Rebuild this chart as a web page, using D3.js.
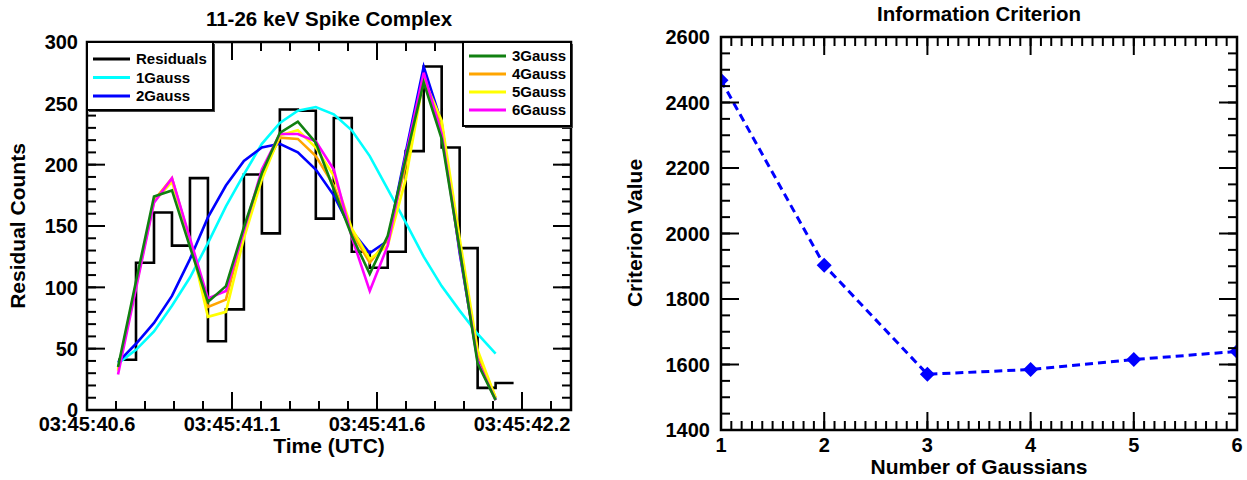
<!DOCTYPE html>
<html><head><meta charset="utf-8">
<script src="https://cdn.jsdelivr.net/npm/d3@7/dist/d3.min.js"></script>
<style>
body{margin:0;background:#fff}
text{font-family:"Liberation Sans",Arial,Helvetica,sans-serif;font-weight:bold;fill:#000}
</style>
</head><body>
<svg id="c" width="1247" height="480"></svg>
<script>
// ---------- Left panel data ----------
const times = [40.757,40.819,40.881,40.943,41.005,41.067,41.129,41.191,41.253,41.315,41.377,
               41.439,41.501,41.563,41.625,41.687,41.749,41.811,41.873,41.935,41.997,42.059];
const binWidth = 0.062;
const residuals = [41,120,161,134,189,56,82,192,144,245,244,156,238,129,116,129,211,280,214,132,18,22];
const gauss1 = [38,49,64,85,108,136,166,192,217,234,244,247,241,228,207,180,153,125,101,81,62,46];
const gauss2 = [39,54,71,93,123,157,183,203,214,217,210,196,175,146,128,138,210,280,234,128,41,9];
const gauss3 = [35,105,174,179,133,88,101,149,193,226,235,218,180,142,111,142,205,267,221,131,38,8];
const gauss4 = [33,102,171,189,138,84,90,146,192,222,221,207,183,145,120,139,200,271,230,135,46,10];
const gauss5 = [32,101,170,186,139,76,80,140,188,224,228,214,191,148,123,134,188,270,236,140,49,10];
const gauss6 = [29,99,169,189,140,91,97,146,196,225,225,219,196,141,97,134,207,275,225,130,40,8];
const fitNames = ["1Gauss","2Gauss","3Gauss","4Gauss","5Gauss","6Gauss"];
const fitColors = ["#00ffff","#0000ff","#118011","#ffa500","#ffff00","#ff00ff"];
const xTickTimes = [40.65,41.15,41.65,42.15];
const xTickLabels = ["03:45:40.6","03:45:41.1","03:45:41.6","03:45:42.2"];
const yTicksLeft = [0,50,100,150,200,250,300];

// ---------- Right panel data ----------
const nGauss = [1,2,3,4,5,6];
const criterion = [2468,1903,1570,1585,1615,1640];
const yTicksRight = [1400,1600,1800,2000,2200,2400,2600];

const svg = d3.select("#c");
svg.append("rect").attr("width",1247).attr("height",480).attr("fill","#fff");

function frameTicks(g, x, y, xMajor, xMinor, yMajor, yMinor, majLen, minLen){
  const [x0,x1] = x.range(); const [y0,y1] = y.range();
  const tk = g.append("g").attr("stroke","#000").attr("stroke-width",2);
  xMinor.forEach(v=>{const px=x(v);
    tk.append("line").attr("x1",px).attr("x2",px).attr("y1",y0).attr("y2",y0-minLen);
    tk.append("line").attr("x1",px).attr("x2",px).attr("y1",y1).attr("y2",y1+minLen);});
  xMajor.forEach(v=>{const px=x(v);
    tk.append("line").attr("x1",px).attr("x2",px).attr("y1",y0).attr("y2",y0-majLen);
    tk.append("line").attr("x1",px).attr("x2",px).attr("y1",y1).attr("y2",y1+majLen);});
  yMinor.forEach(v=>{const py=y(v);
    tk.append("line").attr("x1",x0).attr("x2",x0+minLen).attr("y1",py).attr("y2",py);
    tk.append("line").attr("x1",x1).attr("x2",x1-minLen).attr("y1",py).attr("y2",py);});
  yMajor.forEach(v=>{const py=y(v);
    tk.append("line").attr("x1",x0).attr("x2",x0+majLen).attr("y1",py).attr("y2",py);
    tk.append("line").attr("x1",x1).attr("x2",x1-majLen).attr("y1",py).attr("y2",py);});
  g.append("rect").attr("x",x0).attr("y",y1).attr("width",x1-x0).attr("height",y0-y1)
    .attr("fill","none").attr("stroke","#000").attr("stroke-width",2.5);
}

// ================= LEFT PANEL =================
{
  const x = d3.scaleLinear().domain([40.65, 40.65 + 484/290]).range([87,571]);
  const y = d3.scaleLinear().domain([0,300]).range([410,42]);
  const g = svg.append("g");
  g.append("clipPath").attr("id","clipL").append("rect")
    .attr("x",87).attr("y",42).attr("width",484).attr("height",368);
  const plot = g.append("g").attr("clip-path","url(#clipL)");

  const stepPts = times.map((t,i)=>[t,residuals[i]]);
  stepPts.push([times[times.length-1]+binWidth, residuals[residuals.length-1]]);
  plot.append("path").attr("d", d3.line().x(d=>x(d[0])).y(d=>y(d[1])).curve(d3.curveStepAfter)(stepPts))
    .attr("fill","none").attr("stroke","#000").attr("stroke-width",2.6);

  const fits = [gauss1,gauss2,gauss4,gauss5,gauss6,gauss3];
  const fitIdx = [0,1,3,4,5,2];
  const line = d3.line().x((d,i)=>x(times[i])).y(d=>y(d));
  fits.forEach((arr,k)=>{
    plot.append("path").attr("d",line(arr)).attr("fill","none")
      .attr("stroke",fitColors[fitIdx[k]]).attr("stroke-width",2.6).attr("stroke-linejoin","miter");
  });

  const minorX = d3.range(0,17).map(k=>40.65+k*0.1);
  const minorY = d3.range(0,301,10);
  frameTicks(g, x, y, xTickTimes, minorX, yTicksLeft, minorY, 18, 9);

  xTickTimes.forEach((t,i)=>{
    g.append("text").attr("x",x(t)).attr("y",431).attr("text-anchor","middle")
      .attr("font-size",20).text(xTickLabels[i]);
  });
  yTicksLeft.forEach(v=>{
    g.append("text").attr("x",78).attr("y",y(v)).attr("dy","0.36em").attr("text-anchor","end")
      .attr("font-size",20).text(v);
  });
  g.append("text").attr("x",329).attr("y",26).attr("text-anchor","middle").attr("font-size",20.5)
    .text("11-26 keV Spike Complex");
  g.append("text").attr("x",329).attr("y",453).attr("text-anchor","middle").attr("font-size",21)
    .text("Time (UTC)");
  g.append("text").attr("transform","translate(25,226) rotate(-90)").attr("text-anchor","middle")
    .attr("font-size",21).text("Residual Counts");

  function legend(x0,y0,w,h,items,colors,rowY){
    g.append("rect").attr("x",x0+2).attr("y",y0+2).attr("width",w).attr("height",h).attr("fill","#444");
    g.append("rect").attr("x",x0).attr("y",y0).attr("width",w).attr("height",h)
      .attr("fill","#fff").attr("stroke","#000").attr("stroke-width",2);
    items.forEach((name,i)=>{
      const yy = rowY[i];
      g.append("line").attr("x1",x0+6).attr("x2",x0+43).attr("y1",yy).attr("y2",yy)
        .attr("stroke",colors[i]).attr("stroke-width",3);
      g.append("text").attr("x",x0+49).attr("y",yy).attr("dy","0.36em").attr("font-size",15).text(name);
    });
  }
  legend(87,42,126,68,["Residuals","1Gauss","2Gauss"],["#000",fitColors[0],fitColors[1]],[59,77.5,96]);
  legend(463,42,108,84,["3Gauss","4Gauss","5Gauss","6Gauss"],fitColors.slice(2),[56,74,92,110]);
}

// ================= RIGHT PANEL =================
{
  const x = d3.scaleLinear().domain([1,6]).range([721,1237]);
  const y = d3.scaleLinear().domain([1400,2600]).range([430,37]);
  const g = svg.append("g");
  g.append("clipPath").attr("id","clipR").append("rect")
    .attr("x",721).attr("y",37).attr("width",516).attr("height",393);
  const plot = g.append("g").attr("clip-path","url(#clipR)");
  const pts = nGauss.map((n,i)=>[n,criterion[i]]);
  plot.append("path").attr("d", d3.line().x(d=>x(d[0])).y(d=>y(d[1]))(pts))
    .attr("fill","none").attr("stroke","#0000ff").attr("stroke-width",3).attr("stroke-dasharray","8,5");
  plot.selectAll("path.m").data(pts).join("path").attr("class","m")
    .attr("transform",d=>`translate(${x(d[0])},${y(d[1])})`)
    .attr("d","M0,-7.5L7.5,0L0,7.5L-7.5,0Z").attr("fill","#0000ff");

  const minorX = d3.range(0,51).map(k=>1+k*0.1);
  const minorY = d3.range(1400,2601,50);
  frameTicks(g, x, y, nGauss, minorX, yTicksRight, minorY, 18, 9);

  nGauss.forEach(n=>{
    g.append("text").attr("x",x(n)).attr("y",452).attr("text-anchor","middle").attr("font-size",20).text(n);
  });
  yTicksRight.forEach(v=>{
    g.append("text").attr("x",710).attr("y",y(v)).attr("dy","0.36em").attr("text-anchor","end")
      .attr("font-size",20).text(v);
  });
  g.append("text").attr("x",979).attr("y",21).attr("text-anchor","middle").attr("font-size",20.5)
    .text("Information Criterion");
  g.append("text").attr("x",979).attr("y",474).attr("text-anchor","middle").attr("font-size",21)
    .text("Number of Gaussians");
  g.append("text").attr("transform","translate(642,233) rotate(-90)").attr("text-anchor","middle")
    .attr("font-size",21).text("Criterion Value");
}
</script>
</body></html>
